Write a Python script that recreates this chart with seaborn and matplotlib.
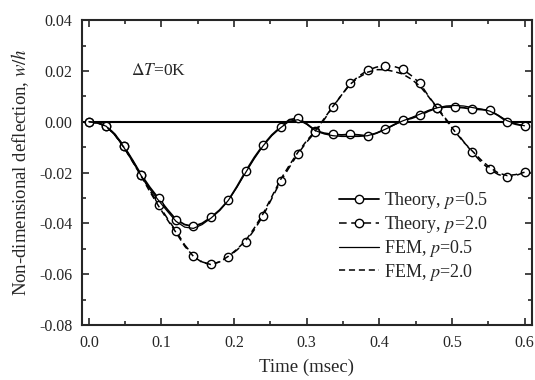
import numpy as np
import pandas as pd
import seaborn as sns
from matplotlib import pyplot as plt
from matplotlib.ticker import MultipleLocator, FormatStrFormatter

# time grid (msec), step 0.012; theory markers every 2nd point
time = [0.000, 0.012, 0.024, 0.036, 0.048, 0.060, 0.072, 0.084, 0.096, 0.108,
        0.120, 0.132, 0.144, 0.156, 0.168, 0.180, 0.192, 0.204, 0.216, 0.228,
        0.240, 0.252, 0.264, 0.276, 0.288, 0.300, 0.312, 0.324, 0.336, 0.348,
        0.360, 0.372, 0.384, 0.396, 0.408, 0.420, 0.432, 0.444, 0.456, 0.468,
        0.480, 0.492, 0.504, 0.516, 0.528, 0.540, 0.552, 0.564, 0.576, 0.588,
        0.600]

theory_p05 = [0.0000, -0.0005, -0.0017, -0.0050, -0.0095, -0.0150, -0.0208, -0.0258, -0.0302, -0.0345,
              -0.0385, -0.0405, -0.0412, -0.0400, -0.0377, -0.0348, -0.0310, -0.0255, -0.0195, -0.0140,
              -0.0092, -0.0052, -0.0021, 0.0008, 0.0014, -0.0008, -0.0035, -0.0045, -0.0050, -0.0052,
              -0.0050, -0.0052, -0.0056, -0.0045, -0.0030, -0.0012, 0.0005, 0.0013, 0.0025, 0.0042,
              0.0054, 0.0058, 0.0058, 0.0055, 0.0050, 0.0048, 0.0045, 0.0024, 0.0000, -0.0010,
              -0.0017]

theory_p20 = [0.0000, -0.0005, -0.0017, -0.0050, -0.0097, -0.0152, -0.0210, -0.0270, -0.0326, -0.0380,
              -0.0430, -0.0485, -0.0527, -0.0552, -0.0562, -0.0552, -0.0532, -0.0505, -0.0473, -0.0425,
              -0.0370, -0.0302, -0.0235, -0.0180, -0.0126, -0.0080, -0.0040, 0.0008, 0.0058, 0.0105,
              0.0151, 0.0180, 0.0203, 0.0215, 0.0221, 0.0218, 0.0207, 0.0182, 0.0151, 0.0100,
              0.0055, 0.0010, -0.0033, -0.0078, -0.0120, -0.0158, -0.0188, -0.0208, -0.0218, -0.0212,
              -0.0199]

fem_p05 = [0.0000, -0.0004, -0.0018, -0.0053, -0.0100, -0.0156, -0.0212, -0.0265, -0.0310, -0.0352,
           -0.0392, -0.0415, -0.0420, -0.0405, -0.0380, -0.0350, -0.0310, -0.0258, -0.0200, -0.0145,
           -0.0095, -0.0055, -0.0024, 0.0002, 0.0008, -0.0010, -0.0035, -0.0048, -0.0055, -0.0058,
           -0.0058, -0.0058, -0.0055, -0.0045, -0.0030, -0.0013, 0.0003, 0.0016, 0.0030, 0.0045,
           0.0055, 0.0062, 0.0064, 0.0062, 0.0056, 0.0050, 0.0042, 0.0025, 0.0004, -0.0008,
           -0.0016]

fem_p20 = [0.0000, -0.0004, -0.0018, -0.0053, -0.0100, -0.0156, -0.0214, -0.0275, -0.0332, -0.0385,
           -0.0436, -0.0490, -0.0530, -0.0554, -0.0562, -0.0552, -0.0530, -0.0502, -0.0468, -0.0418,
           -0.0362, -0.0295, -0.0228, -0.0172, -0.0120, -0.0075, -0.0035, 0.0012, 0.0060, 0.0105,
           0.0148, 0.0175, 0.0195, 0.0205, 0.0205, 0.0198, 0.0188, 0.0168, 0.0140, 0.0098,
           0.0052, 0.0006, -0.0038, -0.0080, -0.0115, -0.0150, -0.0180, -0.0202, -0.0212, -0.0208,
           -0.0199]

sns.set_style('ticks')
plt.rcParams['font.family'] = ['Liberation Serif', 'DejaVu Serif']
plt.rcParams['mathtext.fontset'] = 'stix'
plt.rcParams['xtick.direction'] = 'in'
plt.rcParams['ytick.direction'] = 'in'

fig = plt.figure(figsize=(5.35, 3.8), dpi=100)
ax = fig.add_axes([0.153, 0.145, 0.841, 0.802])

ax.axhline(0, color='black', lw=1.5, zorder=1)

mk = dict(marker='o', markersize=6, markerfacecolor='white', markeredgecolor='black',
          markeredgewidth=1.0, markevery=2)
sns.lineplot(x=time, y=theory_p05, ax=ax, color='black', lw=1.3,
             label='Theory, $p$=0.5', **mk)
sns.lineplot(x=time, y=theory_p20, ax=ax, color='black', lw=1.1, linestyle=(0, (5, 3)),
             label='Theory, $p$=2.0', **mk)
sns.lineplot(x=time, y=fem_p05, ax=ax, color='black', lw=0.9, label='FEM, $p$=0.5')
sns.lineplot(x=time, y=fem_p20, ax=ax, color='black', lw=1.1, linestyle=(0, (4, 2.5)),
             label='FEM, $p$=2.0')

ax.set_xlim(-0.0096, 0.61)
ax.set_ylim(-0.08, 0.04)
ax.xaxis.set_major_locator(MultipleLocator(0.1))
ax.xaxis.set_minor_locator(MultipleLocator(0.05))
ax.yaxis.set_major_locator(MultipleLocator(0.02))
ax.yaxis.set_minor_locator(MultipleLocator(0.01))
ax.xaxis.set_major_formatter(FormatStrFormatter('%.1f'))
ax.yaxis.set_major_formatter(FormatStrFormatter('%.2f'))
ax.tick_params(which='both', top=True, right=True, labelsize=11.5, width=1.2)
ax.tick_params(which='major', length=5)
ax.tick_params(which='minor', length=3)
ax.tick_params(axis='x', which='major', pad=7)
ax.tick_params(axis='y', which='major', pad=7)
for s in ax.spines.values():
    s.set_linewidth(1.5)

ax.set_xlabel('Time (msec)', fontsize=13.5, labelpad=6)
ax.set_ylabel('Non-dimensional deflection, $w/h$', fontsize=13.5, labelpad=6)
ax.text(0.058, 0.020, r'$\Delta T$=0K', fontsize=12.5, va='center')

ax.legend(loc='upper left', bbox_to_anchor=(0.555, 0.465), frameon=False, fontsize=13,
          handlelength=2.2, handletextpad=0.3, labelspacing=0.15, borderaxespad=0)

fig.savefig('out.png', dpi=100)
